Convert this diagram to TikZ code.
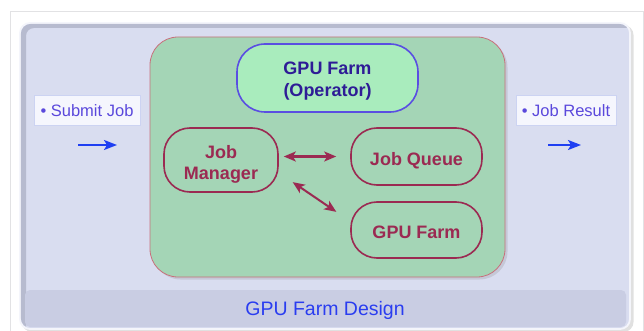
\documentclass[tikz,border=0pt]{standalone}
\usepackage{fontspec}
\setmainfont{Liberation Sans}
\usetikzlibrary{arrows.meta,calc,shadows}

\definecolor{framegray}{HTML}{E2E2E4}
\definecolor{panelfill}{HTML}{D9DDF0}
\definecolor{panelshade}{HTML}{B7BBCF}
\definecolor{panelrim}{HTML}{F4F5FB}
\definecolor{bandfill}{HTML}{C9CDE3}
\definecolor{bandtext}{HTML}{2A3DF0}
\definecolor{farmfill}{HTML}{A4D5B6}
\definecolor{farmline}{HTML}{C8707C}
\definecolor{opfill}{HTML}{A9ECBD}
\definecolor{opline}{HTML}{5A4EE2}
\definecolor{optext}{HTML}{2E1C96}
\definecolor{wine}{HTML}{9B2A52}
\definecolor{labelfill}{HTML}{F5F6FD}
\definecolor{labelline}{HTML}{CCD3F2}
\definecolor{labeltext}{HTML}{5A48DC}
\definecolor{flowblue}{HTML}{1F3FF2}

% strut at the start of a first line: a taller one lowers the text in its box
\newcommand{\leadstrut}[1]{\rule{0pt}{#1}}

\tikzset{
  container/.style={draw=farmline, line width=0.8pt, fill=farmfill,
    rounded corners=28pt, inner sep=0pt,
    drop shadow={shadow xshift=2.5pt, shadow yshift=-2.5pt, opacity=0.22}},
  opbox/.style={draw=opline, line width=1.6pt, fill=opfill, rounded corners=28pt,
    inner sep=0pt, align=center, text=optext,
    font=\fontsize{18}{22}\selectfont\bfseries},
  partbox/.style={draw=wine, line width=1.6pt, rounded corners=26pt,
    inner sep=0pt, align=center, text=wine,
    font=\fontsize{18}{21}\selectfont\bfseries},
  flowlabel/.style={draw=labelline, line width=0.6pt, fill=labelfill,
    inner sep=0pt, minimum height=30pt, text=labeltext,
    font=\fontsize{16.5}{19}\selectfont},
  link/.style={draw=wine, line width=2pt,
    {Stealth[length=12pt,width=10pt,inset=3pt]}-{Stealth[length=12pt,width=10pt,inset=3pt]}},
  flow/.style={draw=flowblue, line width=2pt,
    -{Stealth[length=13pt,width=10pt,inset=3pt]}}
}

\begin{document}
\begin{tikzpicture}[x=1pt,y=-1pt]
\useasboundingbox (0,0) rectangle (644,331);
\fill[white] (0,0) rectangle (644,331);

% page frame
\draw[framegray, line width=1pt] (10,340) -- (10,12) -- (643,12) -- (643,340);

% outer panel with soft shadow, light rim and inner shade
\fill[black, opacity=0.12, rounded corners=10pt] (22,25) rectangle (633.5,332);
\path[fill=panelfill, draw=panelrim, line width=1.8pt, rounded corners=10pt]
  (20,23) rectangle (630,329);
\begin{scope}
  \clip[rounded corners=10pt] (20.9,23.9) rectangle (629.1,328.1);
  \fill[panelshade, even odd rule, rounded corners=8pt]
    (10,13) rectangle (645,345) (26,28) rectangle (645,345);
\end{scope}

% caption band
\fill[bandfill, rounded corners=5pt] (25,290) rectangle (626,327);
\node[text=bandtext, font=\fontsize{19.5}{22}\selectfont] (caption) at (325,310) {GPU Farm Design};

% operator container
\node[container, minimum width=355pt, minimum height=240pt] (farm) at (327.5,157) {};

\node[opbox, minimum width=181pt, minimum height=68pt] (op) at (327.5,78)
  {\leadstrut{19pt}GPU Farm\\(Operator)};
\node[partbox, minimum width=114pt, minimum height=64pt] (jm) at (221,160)
  {\leadstrut{22pt}Job\\Manager};
\node[partbox, minimum width=131pt, minimum height=57pt] (jq) at (416.5,156.5)
  {\leadstrut{21pt}Job Queue};
\node[partbox, minimum width=131pt, minimum height=56pt] (gf) at (416.5,230)
  {\leadstrut{17pt}GPU Farm};

\draw[link, shorten <=5pt, shorten >=14pt] (jm.east |- jq.west) -- (jq.west);
\draw[link, shorten <=16.8pt, shorten >=16.8pt]
  ($(jm.east)+(0,12.7)$) -- ($(gf.west)+(0,-8.7)$);

% input and output
\node[flowlabel, minimum width=106pt] (submit) at (87,110) {\leadstrut{14pt}• Submit Job};
\node[flowlabel, minimum width=100pt] (result) at (566,110) {\leadstrut{14pt}• Job Result};

\coordinate (inA) at (78,145);
\coordinate (inB) at (117,145);
\coordinate (outA) at (548,145);
\coordinate (outB) at (581,145);
\draw[flow] (inA) -- (inB);
\draw[flow] (outA) -- (outB);
\end{tikzpicture}
\end{document}
